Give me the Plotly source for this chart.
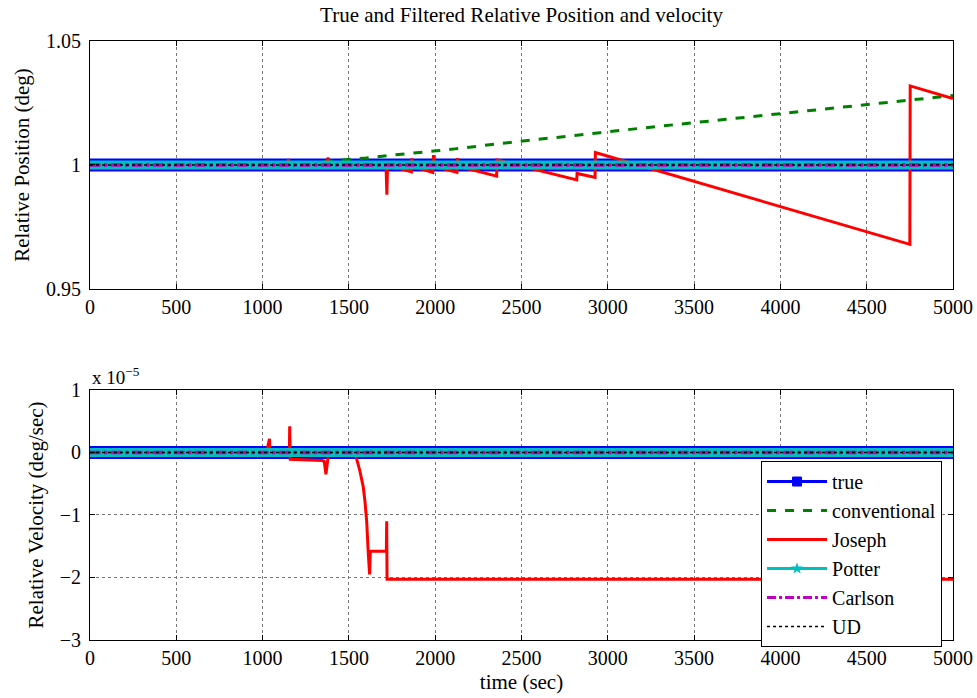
import plotly.graph_objects as go

# ---------------- data ----------------
t_band = [0, 5000]
pos_true = [1.0, 1.0]
vel_true = [0.0, 0.0]

t_conv = [0, 1160, 1430, 1600, 1750, 1870, 1990, 2115, 2245, 2360, 2470, 2723,
          2955, 3200, 3435, 3685, 3930, 4200, 4650, 4890, 5000]
pos_conv = [1.0, 1.0, 1.0018, 1.0028, 1.004, 1.0047, 1.0056, 1.0065, 1.0077, 1.0085,
            1.0094, 1.0112, 1.013, 1.0149, 1.0165, 1.0184, 1.0202, 1.0222, 1.0255,
            1.0273, 1.028]

t_jos_pos = [0, 1145, 1150, 1158, 1372, 1379, 1386, 1715, 1720, 1724, 1862, 1864,
             1868, 1986, 1990, 1994, 2126, 2130, 2134, 2356, 2358, 2820, 2822, 2926,
             2928, 4750, 4752, 5000]
pos_jos = [1.0, 1.0, 1.0024, 1.0, 1.0, 1.003, 0.9995, 1.0, 0.988, 1.0, 0.9973, 1.0027,
           0.9995, 0.997, 1.004, 0.9995, 0.9970, 1.0028, 0.9995, 0.9955, 1.002, 0.994,
           0.9966, 0.995, 1.005, 0.968, 1.0319, 1.0268]

t_jos_vel = [0, 1022, 1040, 1042, 1155, 1157, 1160, 1300, 1345, 1357, 1367, 1378, 1390,
             1516, 1540, 1564, 1583, 1593, 1603, 1612, 1620, 1624, 1717, 1719, 1721, 5000]
vel_jos = [0, 0, 0.22, 0, 0, 0.42, -0.11, -0.12, -0.13, -0.14, -0.35, -0.10, 0,
           0, -0.05, -0.3, -0.55, -0.78, -1.1, -1.6, -1.95, -1.58, -1.58, -1.1, -2.03, -2.03]

legend_names = ["true", "conventional", "Joseph", "Potter", "Carlson", "UD"]

x_ticks = [0, 500, 1000, 1500, 2000, 2500, 3000, 3500, 4000, 4500, 5000]
pos_ticks = [0.95, 1.0, 1.05]
pos_ticktext = ["0.95", "1", "1.05"]
vel_ticks = [-3, -2, -1, 0, 1]

# ---------------- styles ----------------
BLUE = "#0000FF"
GREEN = "#008000"
RED = "#FF0000"
CYAN = "#00BFBF"
MAG = "#BF00BF"
BLACK = "#000000"
FONT = "Liberation Serif, Times New Roman, Times, serif"

fig = go.Figure()


def add_band(x, y, xa, ya):
    fig.add_trace(go.Scatter(x=x, y=y, mode="lines", line=dict(color=BLUE, width=13),
                             xaxis=xa, yaxis=ya, showlegend=False, hoverinfo="skip"))


def add_top(x, y, xa, ya):
    fig.add_trace(go.Scatter(x=x, y=y, mode="lines", line=dict(color=CYAN, width=9),
                             xaxis=xa, yaxis=ya, showlegend=False, hoverinfo="skip"))
    fig.add_trace(go.Scatter(x=x, y=y, mode="lines", line=dict(color=MAG, width=3.5, dash="dashdot"),
                             xaxis=xa, yaxis=ya, showlegend=False, hoverinfo="skip"))
    fig.add_trace(go.Scatter(x=x, y=y, mode="lines", line=dict(color=BLACK, width=1.5, dash="dot"),
                             xaxis=xa, yaxis=ya, showlegend=False, hoverinfo="skip"))


# top subplot
add_band(t_band, pos_true, "x", "y")
fig.add_trace(go.Scatter(x=t_conv, y=pos_conv, mode="lines", line=dict(color=GREEN, width=3, dash="dash"),
                         xaxis="x", yaxis="y", showlegend=False))
fig.add_trace(go.Scatter(x=t_jos_pos, y=pos_jos, mode="lines", line=dict(color=RED, width=3),
                         xaxis="x", yaxis="y", showlegend=False))
add_top(t_band, pos_true, "x", "y")

# bottom subplot
add_band(t_band, vel_true, "x2", "y2")
fig.add_trace(go.Scatter(x=t_jos_vel, y=vel_jos, mode="lines", line=dict(color=RED, width=3),
                         xaxis="x2", yaxis="y2", showlegend=False))
add_top(t_band, vel_true, "x2", "y2")

# legend entries
leg_styles = [
    dict(mode="lines+markers", line=dict(color=BLUE, width=3),
         marker=dict(symbol="square", size=9, color=BLUE, line=dict(color=BLUE, width=1))),
    dict(mode="lines", line=dict(color=GREEN, width=3, dash="dash")),
    dict(mode="lines", line=dict(color=RED, width=3)),
    dict(mode="lines+markers", line=dict(color=CYAN, width=3),
         marker=dict(symbol="star", size=9, color=CYAN)),
    dict(mode="lines", line=dict(color=MAG, width=3, dash="dashdot")),
    dict(mode="lines", line=dict(color=BLACK, width=1.5, dash="dot")),
]
for name, st in zip(legend_names, leg_styles):
    fig.add_trace(go.Scatter(x=[None], y=[None], name=name, xaxis="x2", yaxis="y2",
                             showlegend=True, **st))

axis_common = dict(showline=True, linecolor=BLACK, linewidth=1, mirror="ticks",
                   ticks="inside", ticklen=5, tickcolor=BLACK, showgrid=True,
                   gridcolor="#777777", griddash="dot", gridwidth=1, zeroline=False,
                   automargin=False,
                   tickfont=dict(family=FONT, size=20, color=BLACK))

fig.update_layout(
    width=977, height=698,
    margin=dict(l=90, r=24, t=41, b=58),
    paper_bgcolor="white", plot_bgcolor="white",
    font=dict(family=FONT, color=BLACK),
    title=dict(text="True and Filtered Relative Position and velocity",
               font=dict(family=FONT, size=21, color=BLACK),
               x=0.5, xref="paper", xanchor="center", y=1 - 15 / 698, yanchor="middle"),
    xaxis=dict(domain=[0, 1], anchor="y", range=[0, 5000], tickvals=x_ticks, **axis_common),
    yaxis=dict(domain=[0.586, 1], anchor="x", range=[0.95, 1.05], tickvals=pos_ticks,
               ticktext=pos_ticktext, ticklabelstandoff=4,
               title=dict(text="Relative Position (deg)", font=dict(family=FONT, size=21, color=BLACK),
                          standoff=10),
               **axis_common),
    xaxis2=dict(domain=[0, 1], anchor="y2", range=[0, 5000], tickvals=x_ticks,
                title=dict(text="time (sec)", font=dict(family=FONT, size=21, color=BLACK), standoff=6),
                **axis_common),
    yaxis2=dict(domain=[0, 0.4174], anchor="x2", range=[-3, 1], tickvals=vel_ticks,
                ticklabelstandoff=4,
                title=dict(text="Relative Velocity (deg/sec)", font=dict(family=FONT, size=21, color=BLACK),
                           standoff=10),
                **axis_common),
    legend=dict(x=0.9873, xanchor="right", y=0.2988, yanchor="top",
                bgcolor="white", bordercolor=BLACK, borderwidth=1,
                font=dict(family=FONT, size=20, color=BLACK), itemwidth=60,
                tracegroupgap=0),
    annotations=[dict(text="x 10<sup>\u22125</sup>", xref="paper", yref="paper", x=0, y=(640 - 376) / 599,
                      xanchor="left", yanchor="middle", showarrow=False,
                      font=dict(family=FONT, size=19, color=BLACK))],
)

fig.write_html("out.html")
